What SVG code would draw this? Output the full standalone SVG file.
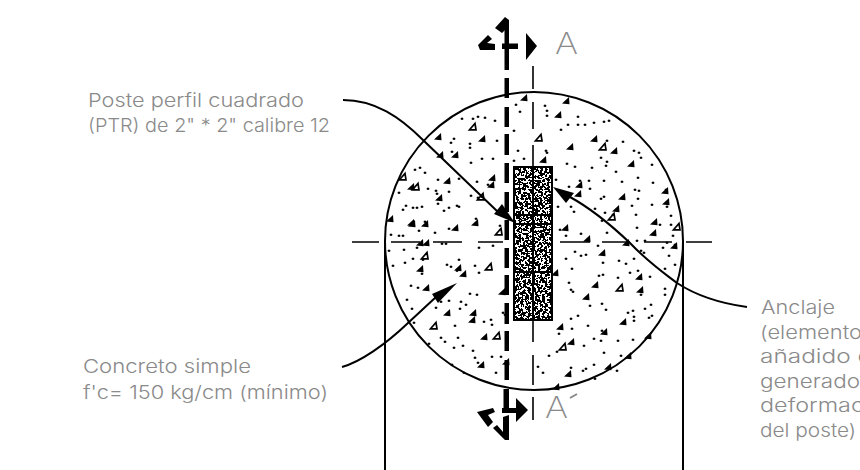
<svg xmlns="http://www.w3.org/2000/svg" width="860" height="470" viewBox="0 0 860 470">
<style>
text{font-family:"Inter","Liberation Sans",sans-serif;font-weight:300;font-size:18.5px;fill:#8a8a8a}
.l{fill:none;stroke:#000;stroke-width:1.6}
.c{fill:none;stroke:#000;stroke-width:2}
.k{fill:#000;stroke:none}
.d{fill:#000;stroke:#000;stroke-width:.6}
</style>
<defs>
<filter id="sp" x="0" y="0" width="100%" height="100%" color-interpolation-filters="sRGB"><feTurbulence type="fractalNoise" baseFrequency="0.42" numOctaves="2" seed="4"/><feColorMatrix values="0 0 0 0 0 0 0 0 0 0 0 0 0 0 0 5 0 0 0 -1.9"/><feComponentTransfer><feFuncA type="discrete" tableValues="0 1"/></feComponentTransfer></filter>
<path id="t" d="M-4 2.500L3-4L3.500 3.200Z" fill="#000"/>
<path id="o" d="M-3.500 2.800L2-3.500L3 2.800Z" fill="none" stroke="#000" stroke-width="1.700"/>
</defs>
<g id="section-line"><path class="k" d="M504.500 20h4.500v50h-4.500zM504.500 78h4.500v20h-4.500zM504.500 107h4.500v20h-4.500zM504.500 134h4.500v21h-4.500zM504.500 163h4.500v20h-4.500zM504.500 192h4.500v20h-4.500zM504.500 220h4.500v20h-4.500zM504.500 248h4.500v20h-4.500zM504.500 275h4.500v20h-4.500zM504.500 303h4.500v21h-4.500zM504.500 331h4.500v20h-4.500zM504.500 360h4.500v20h-4.500zM503.500 389h5.500v24h-5.500z"/><path class="k" d="M495 28L505 17L509 20L509 26L502 33ZM478 45L488 35L492 39L487 43L495 44L495 50L480 50ZM502 43.500h16v5.500h-16zM526 33L537 46L526 60ZM502 408h18v5h-18zM516 398L528 410L516 422ZM477 412L493 408L495 412L488 415L493 422L488 427ZM493 428L497 425L503 432L503 417L509 415L509 440L505 440Z"/></g>
<g id="centerlines"><path class="l" d="M533 66V89M533 102V129M533 145V167M533 320V342M533 355V385M533 397V420M352 242H379M391 242H420M433 242H462M478 242H503M560 242H590M602 242H630M644 242H672M686 242H712"/></g>
<g id="footing"><circle class="c" cx="534" cy="241" r="149"/><path class="c" d="M385 241V470M683 241V470"/></g>
<g id="concrete">
<path class="d" d="M388 250h2v1.500h-2zM392 265h2v1.500h-2zM398 192h2v1.500h-2zM414 169h2v1.500h-2zM419 167h2v1.500h-2zM424 172h2v1.500h-2zM437 179h2v1.500h-2zM435 190h2v1.500h-2zM448 191h2v1.500h-2zM458 178h2v1.500h-2zM476 181h2v1.500h-2zM487 184h2v1.500h-2zM453 138h2v1.500h-2zM461 118h2v1.500h-2zM477 116h2v1.500h-2zM484 117h2v1.500h-2zM472 118h2v1.500h-2zM494 120h2v1.500h-2zM450 142h2v1.500h-2zM451 151h2v1.500h-2zM469 143h2v1.500h-2zM469 147h2v1.500h-2zM496 140h2v1.500h-2zM470 162h2v1.500h-2zM481 158h2v1.500h-2zM492 158h2v1.500h-2zM448 181h2v1.500h-2zM436 193h2v1.500h-2zM402 209h2v1.500h-2zM427 188h2v1.500h-2zM437 203h2v1.500h-2zM412 207h2v1.500h-2zM405 205h2v1.500h-2zM416 207h2v1.500h-2zM421 206h2v1.500h-2zM470 195h2v1.500h-2zM477 197h2v1.500h-2zM481 196h2v1.500h-2zM456 205h2v1.500h-2zM448 207h2v1.500h-2zM458 206h2v1.500h-2zM443 210h2v1.500h-2zM398 235h2v1.500h-2zM390 234h2v1.500h-2zM402 235h2v1.500h-2zM418 230h2v1.500h-2zM424 221h2v1.500h-2zM434 232h2v1.500h-2zM448 228h2v1.500h-2zM475 218h2v1.500h-2zM499 225h2v1.500h-2zM492 245h2v1.500h-2zM478 247h2v1.500h-2zM441 243h2v1.500h-2zM445 243h2v1.500h-2zM416 247h2v1.500h-2zM403 249h2v1.500h-2zM404 262h2v1.500h-2zM412 258h2v1.500h-2zM422 259h2v1.500h-2zM446 264h2v1.500h-2zM450 266h2v1.500h-2zM458 259h2v1.500h-2zM456 270h2v1.500h-2zM474 265h2v1.500h-2zM478 272h2v1.500h-2zM421 273h2v1.500h-2zM417 287h2v1.500h-2zM410 285h2v1.500h-2zM406 299h2v1.500h-2zM411 308h2v1.500h-2zM413 322h2v1.500h-2zM435 307h2v1.500h-2zM440 301h2v1.500h-2zM448 300h2v1.500h-2zM460 301h2v1.500h-2zM465 304h2v1.500h-2zM469 293h2v1.500h-2zM476 294h2v1.500h-2zM483 321h2v1.500h-2zM490 319h2v1.500h-2zM504 314h2v1.500h-2zM457 337h2v1.500h-2zM444 341h2v1.500h-2zM440 337h2v1.500h-2zM453 347h2v1.500h-2zM462 345h2v1.500h-2zM491 324h2v1.500h-2zM502 312h2v1.500h-2zM472 350h2v1.500h-2zM477 362h2v1.500h-2zM474 357h2v1.500h-2zM491 356h2v1.500h-2zM500 356h2v1.500h-2zM451 364h2v1.500h-2zM463 372h2v1.500h-2zM428 343h2v1.500h-2zM454 325h2v1.500h-2zM459 308h2v1.500h-2zM495 372h2v1.500h-2zM513 160h2v1.500h-2zM515 104h2v1.500h-2zM519 111h2v1.500h-2zM513 130h2v1.500h-2zM517 150h2v1.500h-2zM523 158h2v1.500h-2zM544 105h2v1.500h-2zM546 110h2v1.500h-2zM546 115h2v1.500h-2zM558 115h2v1.500h-2zM567 124h2v1.500h-2zM577 124h2v1.500h-2zM584 124h2v1.500h-2zM593 122h2v1.500h-2zM603 121h2v1.500h-2zM608 120h2v1.500h-2zM560 129h2v1.500h-2zM577 116h2v1.500h-2zM545 150h2v1.500h-2zM546 152h2v1.500h-2zM606 140h2v1.500h-2zM622 141h2v1.500h-2zM633 150h2v1.500h-2zM638 152h2v1.500h-2zM640 157h2v1.500h-2zM600 157h2v1.500h-2zM606 161h2v1.500h-2zM605 165h2v1.500h-2zM566 163h2v1.500h-2zM574 166h2v1.500h-2zM591 167h2v1.500h-2zM615 171h2v1.500h-2zM637 177h2v1.500h-2zM651 164h2v1.500h-2zM652 182h2v1.500h-2zM665 189h2v1.500h-2zM555 179h2v1.500h-2zM568 186h2v1.500h-2zM579 180h2v1.500h-2zM588 180h2v1.500h-2zM603 180h2v1.500h-2zM621 181h2v1.500h-2zM634 189h2v1.500h-2zM638 190h2v1.500h-2zM589 188h2v1.500h-2zM600 198h2v1.500h-2zM603 196h2v1.500h-2zM594 208h2v1.500h-2zM570 206h2v1.500h-2zM557 206h2v1.500h-2zM573 211h2v1.500h-2zM604 212h2v1.500h-2zM612 214h2v1.500h-2zM637 198h2v1.500h-2zM631 205h2v1.500h-2zM635 214h2v1.500h-2zM651 204h2v1.500h-2zM666 206h2v1.500h-2zM670 215h2v1.500h-2zM659 224h2v1.500h-2zM670 224h2v1.500h-2zM672 235h2v1.500h-2zM666 242h2v1.500h-2zM644 240h2v1.500h-2zM636 227h2v1.500h-2zM636 240h2v1.500h-2zM580 233h2v1.500h-2zM559 229h2v1.500h-2zM597 245h2v1.500h-2zM606 232h2v1.500h-2zM565 235h2v1.500h-2zM601 220h2v1.500h-2zM618 260h2v1.500h-2zM625 263h2v1.500h-2zM640 250h2v1.500h-2zM643 252h2v1.500h-2zM662 247h2v1.500h-2zM674 244h2v1.500h-2zM668 255h2v1.500h-2zM633 258h2v1.500h-2zM664 268h2v1.500h-2zM674 264h2v1.500h-2zM574 251h2v1.500h-2zM580 255h2v1.500h-2zM585 254h2v1.500h-2zM565 258h2v1.500h-2zM571 268h2v1.500h-2zM602 262h2v1.500h-2zM629 272h2v1.500h-2zM637 270h2v1.500h-2zM598 275h2v1.500h-2zM602 274h2v1.500h-2zM617 277h2v1.500h-2zM639 276h2v1.500h-2zM649 276h2v1.500h-2zM664 288h2v1.500h-2zM664 294h2v1.500h-2zM650 304h2v1.500h-2zM568 282h2v1.500h-2zM570 289h2v1.500h-2zM572 291h2v1.500h-2zM589 305h2v1.500h-2zM601 303h2v1.500h-2zM605 309h2v1.500h-2zM640 294h2v1.500h-2zM644 308h2v1.500h-2zM648 317h2v1.500h-2zM651 315h2v1.500h-2zM632 310h2v1.500h-2zM633 320h2v1.500h-2zM600 340h2v1.500h-2zM601 330h2v1.500h-2zM620 355h2v1.500h-2zM603 352h2v1.500h-2zM632 339h2v1.500h-2zM627 312h2v1.500h-2zM633 316h2v1.500h-2zM570 318h2v1.500h-2zM577 315h2v1.500h-2zM587 325h2v1.500h-2zM558 333h2v1.500h-2zM571 328h2v1.500h-2zM556 351h2v1.500h-2zM593 338h2v1.500h-2zM583 345h2v1.500h-2zM537 366h2v1.500h-2zM542 372h2v1.500h-2zM548 355h2v1.500h-2zM570 367h2v1.500h-2zM585 368h2v1.500h-2zM617 340h2v1.500h-2zM593 364h2v1.500h-2zM582 370h2v1.500h-2zM594 378h2v1.500h-2zM616 370h2v1.500h-2z"/>
<use href="#t" x="390" y="219"/><use href="#o" x="403" y="177"/><use href="#t" x="411" y="187"/><use href="#o" x="416" y="187"/><use href="#t" x="438" y="137"/><use href="#o" x="473" y="127"/><use href="#t" x="440" y="155"/><use href="#t" x="482" y="139"/><use href="#t" x="455" y="155"/><use href="#t" x="492" y="178"/><use href="#t" x="491" y="185"/><use href="#o" x="481" y="197"/><use href="#t" x="447" y="181"/><use href="#t" x="439" y="198"/><use href="#t" x="411" y="223"/><use href="#t" x="455" y="228"/><use href="#o" x="499" y="232"/><use href="#t" x="475" y="223"/><use href="#t" x="425" y="224"/><use href="#t" x="412" y="224"/><use href="#t" x="420" y="243"/><use href="#t" x="426" y="243"/><use href="#o" x="425" y="256"/><use href="#t" x="420" y="269"/><use href="#t" x="458" y="268"/><use href="#t" x="463" y="274"/><use href="#o" x="489" y="267"/><use href="#t" x="426" y="288"/><use href="#t" x="472" y="320"/><use href="#o" x="434" y="326"/><use href="#t" x="447" y="313"/><use href="#t" x="473" y="313"/><use href="#t" x="502" y="292"/><use href="#t" x="484" y="337"/><use href="#o" x="497" y="336"/><use href="#t" x="481" y="365"/><use href="#t" x="506" y="362"/><use href="#t" x="524" y="98"/><use href="#t" x="566" y="101"/><use href="#t" x="558" y="115"/><use href="#o" x="539" y="138"/><use href="#t" x="543" y="160"/><use href="#t" x="594" y="139"/><use href="#t" x="570" y="147"/><use href="#o" x="603" y="147"/><use href="#t" x="614" y="151"/><use href="#t" x="631" y="164"/><use href="#t" x="579" y="185"/><use href="#t" x="578" y="194"/><use href="#t" x="622" y="197"/><use href="#t" x="616" y="209"/><use href="#o" x="612" y="217"/><use href="#t" x="565" y="228"/><use href="#t" x="587" y="239"/><use href="#t" x="626" y="243"/><use href="#t" x="602" y="253"/><use href="#t" x="654" y="222"/><use href="#t" x="666" y="202"/><use href="#t" x="665" y="191"/><use href="#o" x="677" y="227"/><use href="#t" x="653" y="233"/><use href="#t" x="674" y="246"/><use href="#t" x="555" y="273"/><use href="#t" x="595" y="285"/><use href="#o" x="620" y="288"/><use href="#t" x="639" y="277"/><use href="#t" x="640" y="290"/><use href="#t" x="586" y="297"/><use href="#t" x="623" y="322"/><use href="#t" x="604" y="332"/><use href="#t" x="560" y="327"/><use href="#t" x="571" y="342"/><use href="#o" x="563" y="347"/><use href="#t" x="568" y="374"/><use href="#t" x="608" y="367"/><use href="#t" x="628" y="356"/><use href="#t" x="648" y="336"/><use href="#t" x="556" y="387"/>
</g>
<g id="post"><rect x="514" y="167" width="38" height="153" fill="#fff"/><rect x="514" y="167" width="38" height="153" filter="url(#sp)"/><path fill="none" stroke="#000" stroke-width="2" d="M514 167h38v153h-38zM533 167v153M514 215h38M514 224h38M514 272h38"/></g>
<g id="connectors"><path class="c" d="M343 100C375 100 400 117 423 140L498 212"/><path class="k" d="M515 223L494 214L502 204Z"/><path class="c" d="M747 307C725 304 700 298 677 283C660 270 648 262 630 243C610 224 592 209 570 197"/><path class="k" d="M553 187L574 193L566 203Z"/><path class="c" d="M342 367C360 362 385 345 408 323L436 297"/><path class="k" d="M457 283L432 294L438 303Z"/></g>
<g id="label-post"><text x="88" y="107" textLength="216" lengthAdjust="spacingAndGlyphs">Poste perfil cuadrado</text><text x="88" y="132" textLength="242" lengthAdjust="spacingAndGlyphs">(PTR) de 2" * 2" calibre 12</text></g>
<g id="label-concrete"><text x="83" y="373" textLength="168" lengthAdjust="spacingAndGlyphs">Concreto simple</text><text x="83" y="399" textLength="245" lengthAdjust="spacingAndGlyphs">f'c= 150 kg/cm (mínimo)</text></g>
<g id="label-anchor"><text x="761" y="314" textLength="74" lengthAdjust="spacingAndGlyphs">Anclaje</text><text x="760" y="339" textLength="102" lengthAdjust="spacingAndGlyphs">(elemento</text><text x="760" y="363" textLength="112" lengthAdjust="spacingAndGlyphs">añadido o</text><text x="760" y="388" textLength="100" lengthAdjust="spacingAndGlyphs">generado</text><text x="760" y="412" textLength="104" lengthAdjust="spacingAndGlyphs">deformac</text><text x="760" y="437" textLength="96" lengthAdjust="spacingAndGlyphs">del poste)</text></g>
<g id="section-a"><text x="555" y="54" style="font-size:30px;font-weight:200" textLength="23" lengthAdjust="spacingAndGlyphs">A</text><text x="545" y="418" style="font-size:30px;font-weight:200" textLength="23" lengthAdjust="spacingAndGlyphs">A</text><path d="M570 398L577 394" stroke="#888" stroke-width="2"/></g>
</svg>
